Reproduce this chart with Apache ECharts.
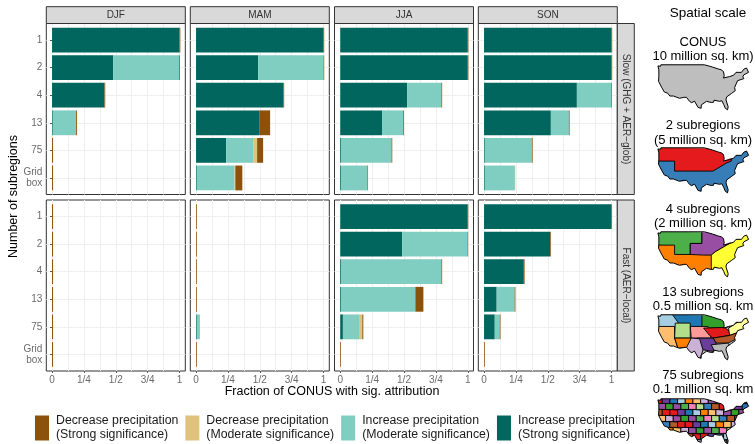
<!DOCTYPE html>
<html>
<head>
<meta charset="utf-8">
<style>
  html, body { margin: 0; padding: 0; background: #fff; }
  #chart { width: 755px; height: 444px; }
</style>
<script src="https://cdn.jsdelivr.net/npm/echarts@6/dist/echarts.min.js"></script>
</head>
<body>
<div id="chart"></div>
<script>
const seasons = ['DJF', 'MAM', 'JJA', 'SON'];
const subregions = ['1', '2', '4', '13', '75', 'Grid\nbox'];
const xTickValues = [0, 0.25, 0.5, 0.75, 1];
const xTickLabels = ['0', '1/4', '1/2', '3/4', '1'];
const xGridValues = [0, 0.125, 0.25, 0.375, 0.5, 0.625, 0.75, 0.875, 1];
const rowNames = ['Slow (GHG + AER\u2212glob)', 'Fast (AER\u2212local)'];

const seriesNames = [
  'Increase precipitation\n(Strong significance)',
  'Increase precipitation\n(Moderate significance)',
  'Decrease precipitation\n(Moderate significance)',
  'Decrease precipitation\n(Strong significance)',
];
const legendOrder = [seriesNames[3], seriesNames[2], seriesNames[1], seriesNames[0]];
const seriesColors = ['#01665e', '#80cdc1', '#dfc27d', '#8c510a'];

// Each panel: strong increase, moderate increase, moderate decrease, strong decrease
const slowDJF = [
  [1, 0.479, 0.411, 0.006, 0, 0],
  [0, 0.518, 0, 0.183, 0, 0],
  [0, 0, 0, 0, 0, 0],
  [0.006, 0.006, 0.006, 0.007, 0.008, 0.008],
];
const slowMAM = [
  [1, 0.487, 0.686, 0.495, 0.236, 0.006],
  [0, 0.513, 0, 0, 0.212, 0.296],
  [0, 0, 0, 0, 0.031, 0.006],
  [0.005, 0.005, 0.005, 0.086, 0.047, 0.055],
];
const slowJJA = [
  [1, 1, 0.525, 0.328, 0.006, 0.006],
  [0, 0, 0.268, 0.165, 0.396, 0.207],
  [0, 0, 0, 0, 0, 0],
  [0.005, 0.005, 0.006, 0.006, 0.006, 0.005],
];
const slowSON = [
  [1, 1, 0.728, 0.524, 0.006, 0.006],
  [0, 0, 0.27, 0.141, 0.369, 0.236],
  [0, 0, 0, 0, 0, 0.003],
  [0.005, 0.005, 0.005, 0.006, 0.006, 0],
];
const fastDJF = [
  [0, 0, 0, 0, 0, 0],
  [0, 0, 0, 0, 0, 0],
  [0, 0, 0, 0, 0, 0],
  [0.008, 0.008, 0.008, 0.008, 0.008, 0.008],
];
const fastMAM = [
  [0, 0, 0, 0, 0.006, 0],
  [0, 0, 0, 0, 0.018, 0],
  [0, 0, 0, 0, 0, 0],
  [0.006, 0.006, 0.006, 0.006, 0.003, 0.006],
];
const fastJJA = [
  [1, 0.486, 0.006, 0.006, 0.021, 0],
  [0, 0.512, 0.787, 0.583, 0.126, 0],
  [0, 0, 0, 0, 0.026, 0],
  [0.004, 0.005, 0.006, 0.063, 0.008, 0.006],
];
const fastSON = [
  [1, 0.518, 0.312, 0.099, 0.084, 0],
  [0, 0, 0, 0.141, 0.039, 0],
  [0, 0, 0, 0, 0, 0],
  [0.004, 0.006, 0.006, 0.006, 0.006, 0.006],
];
const panelData = [
  [slowDJF, slowMAM, slowJJA, slowSON],
  [fastDJF, fastMAM, fastJJA, fastSON],
];

// US outline, lon/lat
const usOutline = [
  [-124.7, 48.4], [-123, 48.2], [-122.8, 49], [-95.2, 49], [-94.6, 48.7], [-92, 48.3], [-90, 47.8], [-86, 46.7],
  [-84.5, 46.4], [-83, 45.5], [-82.5, 43.2], [-83, 42], [-79, 42.8], [-79, 43.3], [-76.5, 43.5], [-75, 45],
  [-71.5, 45], [-70, 46.7], [-68.3, 47.3], [-67, 45], [-70, 43.7], [-70.7, 42.6], [-70, 41.7], [-74, 40.6],
  [-74.9, 38.9], [-75.9, 37], [-75.5, 35.3], [-77.8, 33.9], [-81, 32], [-81.4, 30.5], [-80, 26.8], [-80.4, 25.2],
  [-81.8, 26], [-82.8, 28], [-84, 30], [-85.5, 29.7], [-89, 30.3], [-89.3, 29.2], [-90.8, 29.1], [-93.8, 29.7],
  [-97.1, 27.8], [-97.2, 26], [-99.2, 26.5], [-101.4, 29.8], [-103.2, 29], [-104.5, 29.6], [-106.5, 31.8],
  [-108.2, 31.8], [-108.2, 31.3], [-111, 31.3], [-114.8, 32.5], [-117.1, 32.5], [-118.5, 34], [-120.6, 34.6],
  [-122.4, 37.2], [-124.3, 40.3], [-124.1, 43], [-124.1, 46.3],
];
const W = -127, E = -64, S = 23, N = 51;

// Region sketches in map units (0..272 across, 0..135 down), painted in order
const wholeSketch = [[-5, -5], [285, -5], [285, 138], [-5, 138]];
const twoRegions = [
  ['#377eb8', wholeSketch],
  ['#e41a1c', [[-5, -5], [220, -5], [220, 40], [207, 45], [165, 70], [50, 70], [50, 40], [-5, 40]]],
];
const fourRegions = [
  ['#ff7f00', wholeSketch],
  ['#4daf4a', [[-5, -5], [132, -5], [132, 35], [97, 35], [97, 68], [50, 68], [50, 40], [-5, 40]]],
  ['#984ea3', [[132, -5], [215, -5], [215, 35], [172, 60], [160, 70], [137, 70], [97, 68], [97, 35], [132, 35]]],
  ['#ffff33', [[160, 105], [160, 70], [172, 60], [215, 35], [240, 15], [285, -5], [285, 138], [165, 138]]],
];
const thirteenRegions = [
  ['#bbbbbb', wholeSketch],
  ['#1f78b4', [[42, -5], [135, -5], [135, 40], [42, 40]]],
  ['#a6cee3', [[-5, -5], [42, -5], [62, 25], [52, 38], [-5, 38]]],
  ['#fdbf6f', [[-5, 35], [50, 35], [50, 68], [60, 100], [40, 115], [-5, 115]]],
  ['#b2df8a', [[52, 25], [97, 25], [97, 70], [50, 70]]],
  ['#ff7f00', [[50, 70], [100, 70], [100, 100], [60, 100]]],
  ['#33a02c', [[132, -5], [215, -5], [215, 32], [200, 40], [132, 40]]],
  ['#fb9a99', [[97, 35], [150, 35], [160, 70], [100, 70]]],
  ['#e31a1c', [[137, 40], [200, 38], [215, 50], [215, 62], [165, 70], [155, 62]]],
  ['#ffff99', [[212, 40], [250, 15], [285, -5], [285, 40], [235, 55], [215, 62]]],
  ['#b15928', [[165, 70], [215, 62], [235, 55], [240, 70], [210, 85], [175, 85]]],
  ['#6a3d9a', [[117, 70], [165, 70], [175, 85], [165, 110], [135, 105]]],
  ['#cab2d6', [[100, 70], [125, 72], [135, 105], [125, 138], [100, 130], [85, 100]]],
  ['#bbbbbb', [[160, 90], [210, 85], [220, 100], [215, 138], [190, 138], [170, 110]]],
];
const mosaicColors = ['#e41a1c', '#377eb8', '#4daf4a', '#984ea3', '#ff7f00', '#6a3d9a', '#b15928', '#f781bf',
  '#33a02c', '#fdbf6f', '#1f78b4', '#e31a1c', '#b2df8a', '#984ea3', '#cab2d6', '#a6cee3'];

// 75-subregion mosaic: brick rows of small cells
const mosaicRegions = [];
for (let row = 0; row < 8; row++) {
  for (let col = 0; col < 13; col++) {
    const y0 = -4 + row * 18;
    const x0 = -10 + col * 23 + (row % 2) * 10;
    const color = mosaicColors[(row * 3 + col * 5) % mosaicColors.length];
    mosaicRegions.push([color, [[x0, y0], [x0 + 23, y0 + (col % 3)], [x0 + 23, y0 + 18], [x0, y0 + 18 + (col % 2)]]]);
  }
}

const toLonLat = ([x, y]) => [
  Math.min(-66, Math.max(-125.5, -124.7 + x * 0.2122)),
  Math.min(49.5, Math.max(24.5, 49 - y * 0.176)),
];

const feature = (name, ring) => ({
  type: 'Feature',
  properties: { name },
  geometry: { type: 'Polygon', coordinates: [ring] },
});

// Paints the regions, then whites out everything outside the outline, then strokes the outline
const buildMap = (mapName, regions, outlineFill) => {
  const features = [];
  const styles = [];
  regions.forEach(([color, sketch], i) => {
    const name = 'r' + i;
    features.push(feature(name, sketch.map(toLonLat)));
    styles.push({ name, itemStyle: { areaColor: color, borderColor: '#000', borderWidth: 0.9 } });
  });
  const reversed = usOutline.slice().reverse();
  const maskRing = [[W, N], [E, N], [E, S], [W, S], [W, N], usOutline[0], ...reversed, [W, N]];
  features.push(feature('mask', maskRing));
  styles.push({ name: 'mask', itemStyle: { areaColor: '#fff', borderWidth: 0 } });
  features.push(feature('outline', usOutline));
  styles.push({ name: 'outline', itemStyle: { areaColor: outlineFill, borderColor: '#000', borderWidth: 1 } });
  echarts.registerMap(mapName, { type: 'FeatureCollection', features });
  return styles;
};

const fontFamily = '"Liberation Sans", Arial, sans-serif';
const panelLeft = [46.3, 190.3, 334.5, 478.3];
const panelWidth = 139;
const rowTop = [23.5, 200];
const panelHeight = 171;
const xMin = -0.045;
const xMax = 1.045;

const grid = [];
const xAxis = [];
const yAxis = [];
const series = [];
const graphic = [];

const addText = (text, x, y, size, extra) => {
  graphic.push({
    type: 'text',
    x,
    y,
    z: 100,
    silent: true,
    style: { text, fill: '#000', font: `${size}px ${fontFamily}`, align: 'center', verticalAlign: 'middle', ...extra },
    ...(extra && extra.rotation !== undefined ? { rotation: extra.rotation } : {}),
  });
};

panelData.forEach((row, r) => {
  row.forEach((panel, c) => {
    const left = panelLeft[c];
    const top = rowTop[r];

    // Frame grid: border, gridlines, ticks and labels
    const frame = grid.length;
    grid.push({ left, top, width: panelWidth, height: panelHeight, show: true, borderColor: '#333', borderWidth: 1, backgroundColor: '#fff' });
    xAxis.push({
      type: 'value', gridIndex: frame, min: xMin, max: xMax,
      axisLine: { show: false }, axisLabel: { show: false },
      axisTick: { show: false, customValues: xGridValues },
      splitLine: { show: true, lineStyle: { color: '#efefef', width: 1 } },
    });
    xAxis.push({
      type: 'value', gridIndex: frame, min: xMin, max: xMax, position: 'bottom',
      axisLine: { show: false }, splitLine: { show: false },
      axisTick: { show: r === 1, length: 2, lineStyle: { color: '#555' }, customValues: xTickValues },
      axisLabel: {
        show: r === 1, customValues: xTickValues, margin: 4.5, color: '#6b6b6b', fontSize: 10, fontFamily,
        formatter: v => xTickLabels[xTickValues.indexOf(v)],
      },
    });
    yAxis.push({
      type: 'value', gridIndex: frame, min: -0.6, max: 5.6, inverse: true,
      axisLine: { show: false },
      axisTick: { show: c === 0, length: 2, lineStyle: { color: '#555' }, customValues: [0, 1, 2, 3, 4, 5] },
      splitLine: { show: true, lineStyle: { color: '#efefef', width: 1 } },
      axisLabel: {
        show: c === 0, customValues: [0, 1, 2, 3, 4, 5], margin: 4, color: '#6b6b6b', fontSize: 10, lineHeight: 11, fontFamily,
        formatter: v => subregions[v],
      },
    });

    // Bar grid: same x range, six category bands
    const bars = grid.length;
    grid.push({ left, top: top + (0.1 / 6.2) * panelHeight, width: panelWidth, height: (6 / 6.2) * panelHeight });
    const barX = xAxis.length;
    xAxis.push({ type: 'value', gridIndex: bars, min: xMin, max: xMax, show: false, splitLine: { show: false } });
    const barY = yAxis.length;
    yAxis.push({ type: 'category', gridIndex: bars, data: subregions, inverse: true, show: false });

    panel.forEach((values, s) => {
      series.push({
        name: seriesNames[s],
        type: 'bar',
        stack: `panel${r}${c}`,
        xAxisIndex: barX,
        yAxisIndex: barY,
        data: values,
        barWidth: '90%',
        itemStyle: { color: seriesColors[s] },
        silent: true,
        animation: false,
      });
    });

    // Season strips
    if (r === 0) {
      graphic.push({
        type: 'rect', z: 50, silent: true,
        shape: { x: left, y: 6.7, width: panelWidth, height: 16.8 },
        style: { fill: '#d9d9d9', stroke: '#333', lineWidth: 1 },
      });
      addText(seasons[c], left + panelWidth / 2, 15.5, 10, { fill: '#333' });
    }
  });

  // Row strips
  graphic.push({
    type: 'rect', z: 50, silent: true,
    shape: { x: 617.3, y: rowTop[r], width: 17, height: panelHeight },
    style: { fill: '#d9d9d9', stroke: '#333', lineWidth: 1 },
  });
  addText(rowNames[r], 626, rowTop[r] + 85.5, 10, { fill: '#333', rotation: -Math.PI / 2 });
});

addText('Number of subregions', 14, 196.5, 12.5, { rotation: Math.PI / 2 });
addText('Fraction of CONUS with sig. attribution', 332, 391.5, 12.5);

// Spatial scale column
const mapX = 654.3;
const mapW = 99;
const mapH = 53;
const spatialTitles = [
  ['CONUS', '10 million sq. km)', 42, 56],
  ['2 subregions', '(5 million sq. km)', 125, 140],
  ['4 subregions', '(2 million sq. km)', 209, 223],
  ['13 subregions', '0.5 million sq. km', 292, 306],
  ['75 subregions', '0.1 million sq. km', 375, 389],
];
const mapTops = [61, 144, 228, 311, 395];
const mapRegions = [[], twoRegions, fourRegions, thirteenRegions, mosaicRegions];
const outlineFills = ['#bebebe', 'rgba(0,0,0,0)', 'rgba(0,0,0,0)', 'rgba(0,0,0,0)', 'rgba(0,0,0,0)'];

addText('Spatial scale', 708, 13, 13.5);
const geo = mapRegions.map((regions, i) => {
  addText(spatialTitles[i][0], 703, spatialTitles[i][2], 13);
  addText(spatialTitles[i][1], 703, spatialTitles[i][3], 13);
  const name = 'us' + i;
  return {
    map: name,
    left: mapX,
    top: mapTops[i],
    width: mapW,
    height: mapH,
    aspectScale: 0.83,
    roam: false,
    silent: true,
    label: { show: false },
    regions: buildMap(name, regions, outlineFills[i]),
  };
});

const chart = echarts.init(document.getElementById('chart'), null, { renderer: 'canvas' });
chart.setOption({
  animation: false,
  backgroundColor: '#fff',
  grid,
  xAxis,
  yAxis,
  series,
  geo,
  graphic,
  legend: {
    data: legendOrder,
    left: 35,
    top: 413,
    orient: 'horizontal',
    icon: 'rect',
    itemWidth: 14,
    itemHeight: 25,
    itemGap: 7,
    selectedMode: false,
    padding: 0,
    textStyle: { fontSize: 12.3, lineHeight: 14, color: '#1a1a1a', fontFamily, padding: [2, 0, 0, 2] },
  },
});
</script>
</body>
</html>
